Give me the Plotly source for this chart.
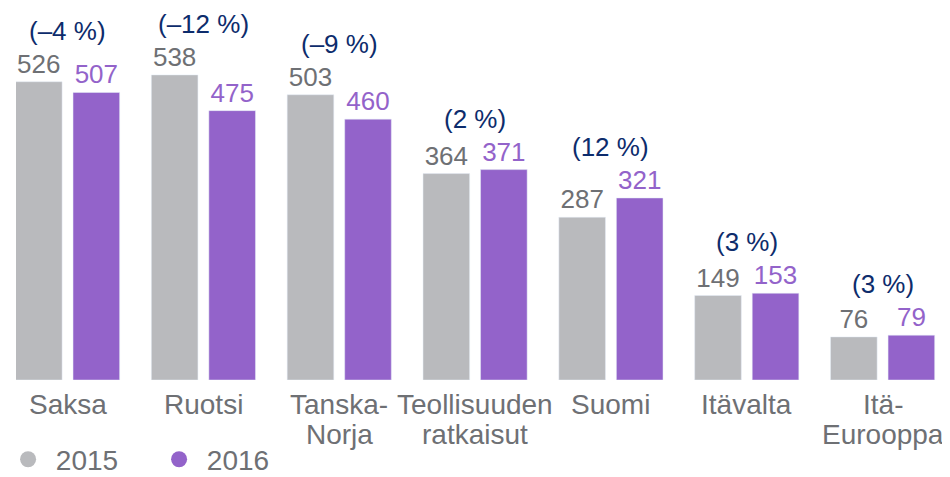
import plotly.graph_objects as go

categories = ["Saksa", "Ruotsi", "Tanska-Norja", "Teollisuuden ratkaisut",
              "Suomi", "Itävalta", "Itä-Eurooppa"]
label_lines = [["Saksa"], ["Ruotsi"], ["Tanska-", "Norja"],
               ["Teollisuuden", "ratkaisut"], ["Suomi"], ["Itävalta"],
               ["Itä-", "Eurooppa"]]
v2015 = [526, 538, 503, 364, 287, 149, 76]
v2016 = [507, 475, 460, 371, 321, 153, 79]
changes = ["(–4 %)", "(–12 %)", "(–9 %)", "(2 %)",
           "(12 %)", "(3 %)", "(3 %)"]
series_names = ["2015", "2016"]

GRAY = "#B9BABD"
PURPLE = "#9363CA"
TEXT_GRAY = "#6E7074"
NAVY = "#0D2C6C"
FONT = "Liberation Sans, Arial, sans-serif"
FS_VAL = 26
FS_LAB = 28

fig = go.Figure()
for name, vals, col, tcol in [(series_names[0], v2015, GRAY, TEXT_GRAY),
                              (series_names[1], v2016, PURPLE, PURPLE)]:
    fig.add_trace(go.Bar(
        x=categories, y=vals, name=name, marker_color=col,
        text=[str(v) for v in vals], textposition="outside",
        textfont=dict(color=tcol, size=FS_VAL, family=FONT),
        constraintext="none", cliponaxis=False, showlegend=False,
    ))
    fig.add_trace(go.Scatter(
        x=[None], y=[None], mode="markers", name=" " + name,
        marker=dict(color=col, size=20, symbol="circle"), showlegend=True,
    ))

annotations = []
for cat, a, b, ch in zip(categories, v2015, v2016, changes):
    annotations.append(dict(
        x=cat, y=max(a, b), xref="x", yref="y", text=ch, showarrow=False,
        yshift=51, yanchor="middle", font=dict(color=NAVY, size=FS_VAL, family=FONT),
    ))
for cat, lines in zip(categories, label_lines):
    for i, ln in enumerate(lines):
        annotations.append(dict(
            x=cat, y=0, xref="x", yref="y", text=ln, showarrow=False,
            yanchor="top", yshift=-7 - 30 * i,
            font=dict(color=TEXT_GRAY, size=FS_LAB, family=FONT),
        ))

fig.update_layout(
    width=950, height=477,
    margin=dict(l=0, r=0, t=0, b=103),
    paper_bgcolor="white", plot_bgcolor="white",
    barmode="group", bargap=0.153, bargroupgap=0.19,
    xaxis=dict(range=[-0.3796, 6.555], showticklabels=False, showgrid=False,
               zeroline=False, showline=False, ticks=""),
    yaxis=dict(range=[0, 656], visible=False),
    legend=dict(orientation="h", x=-0.0084, y=-0.2139, xanchor="left", yanchor="middle",
                entrywidth=106, font=dict(color=TEXT_GRAY, size=FS_LAB, family=FONT),
                itemsizing="trace"),
    annotations=annotations,
    font=dict(family=FONT),
)

fig.write_html("out.html")
